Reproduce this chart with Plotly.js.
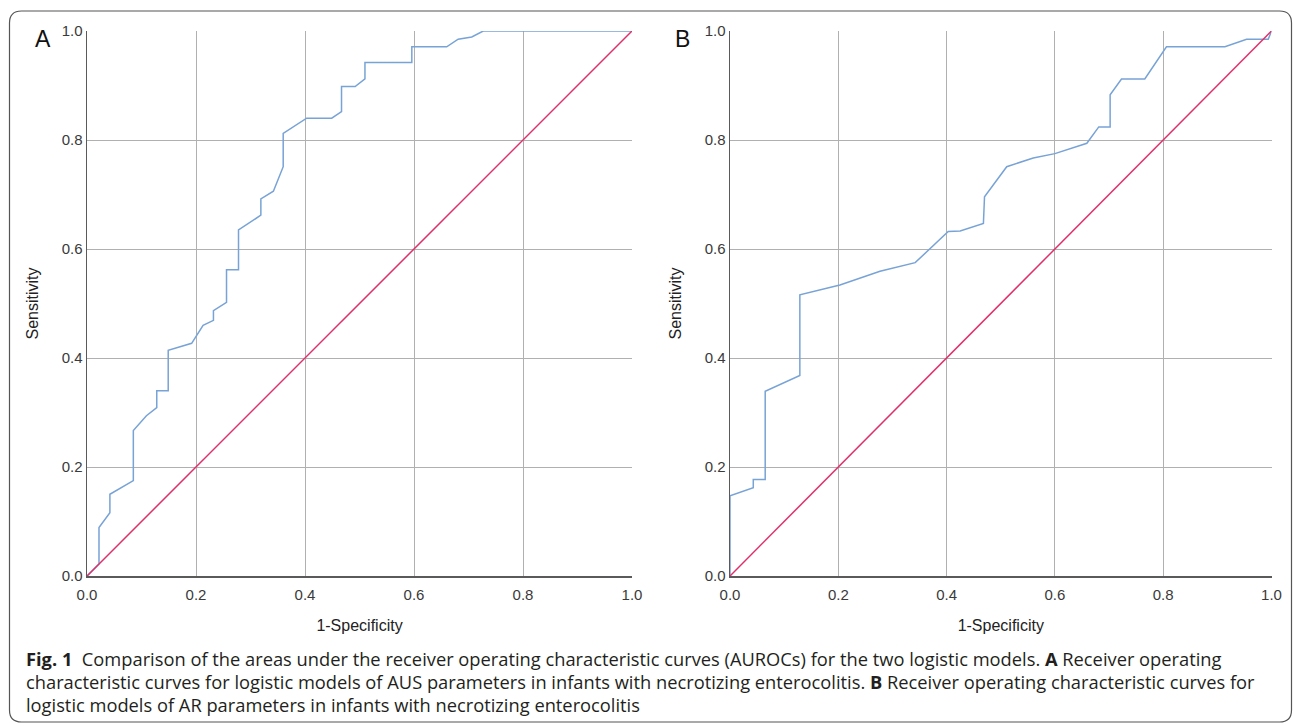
<!DOCTYPE html>
<html>
<head>
<meta charset="utf-8">
<script src="https://cdn.plot.ly/plotly-3.0.1.min.js"></script>
<style>html,body{margin:0;padding:0;background:#fff;}#chart{width:1293px;height:726px;}</style>
</head>
<body>
<div id="chart"></div>
<script>
// Panel A: ROC for AUS parameters
const fprA = [0, 0.022, 0.022, 0.042, 0.042, 0.085, 0.085, 0.109, 0.128, 0.128, 0.149, 0.149, 0.192, 0.213, 0.232, 0.232, 0.256, 0.256, 0.278, 0.278, 0.319, 0.319, 0.342, 0.360, 0.360, 0.403, 0.449, 0.467, 0.467, 0.492, 0.510, 0.510, 0.596, 0.596, 0.660, 0.681, 0.706, 0.727, 1.0];
const tprA = [0, 0.022, 0.089, 0.116, 0.150, 0.175, 0.267, 0.294, 0.309, 0.340, 0.340, 0.414, 0.427, 0.460, 0.469, 0.487, 0.502, 0.562, 0.562, 0.635, 0.662, 0.692, 0.706, 0.751, 0.812, 0.840, 0.840, 0.852, 0.898, 0.898, 0.912, 0.942, 0.942, 0.971, 0.971, 0.985, 0.989, 1.0, 1.0];
// Panel B: ROC for AR parameters
const fprB = [0, 0, 0.043, 0.043, 0.065, 0.065, 0.129, 0.129, 0.203, 0.234, 0.277, 0.342, 0.403, 0.425, 0.468, 0.470, 0.511, 0.560, 0.600, 0.659, 0.681, 0.702, 0.702, 0.723, 0.766, 0.806, 0.914, 0.954, 0.994, 1.0];
const tprB = [0, 0.147, 0.162, 0.177, 0.177, 0.339, 0.368, 0.516, 0.534, 0.545, 0.559, 0.575, 0.632, 0.633, 0.647, 0.696, 0.751, 0.767, 0.775, 0.794, 0.824, 0.824, 0.883, 0.912, 0.912, 0.971, 0.971, 0.985, 0.985, 1.0];
// Reference line
const diagX = [0, 1];
const diagY = [0, 1];
const tickVals = [0, 0.2, 0.4, 0.6, 0.8, 1.0];
const tickText = ['0.0', '0.2', '0.4', '0.6', '0.8', '1.0'];
const panelLabels = ['A', 'B'];
const xTitle = '1-Specificity';
const yTitle = 'Sensitivity';
const captionLines = [
  '<b>Fig. 1</b>  Comparison of the areas under the receiver operating characteristic curves (AUROCs) for the two logistic models. <b>A</b> Receiver operating',
  'characteristic curves for logistic models of AUS parameters in infants with necrotizing enterocolitis. <b>B</b> Receiver operating characteristic curves for',
  'logistic models of AR parameters in infants with necrotizing enterocolitis'
];

const W = 1293, H = 726;
const px = v => v / W;
const py = v => 1 - v / H;

const rocColor = '#78a3d6';
const diagColor = '#e0306a';

const traces = [
  {x: fprA, y: tprA, xaxis: 'x', yaxis: 'y', mode: 'lines', line: {color: rocColor, width: 1.5}, hoverinfo: 'skip'},
  {x: diagX, y: diagY, xaxis: 'x', yaxis: 'y', mode: 'lines', line: {color: diagColor, width: 1.5}, hoverinfo: 'skip'},
  {x: fprB, y: tprB, xaxis: 'x2', yaxis: 'y2', mode: 'lines', line: {color: rocColor, width: 1.5}, hoverinfo: 'skip'},
  {x: diagX, y: diagY, xaxis: 'x2', yaxis: 'y2', mode: 'lines', line: {color: diagColor, width: 1.5}, hoverinfo: 'skip'}
];

const tickFont = {family: 'Liberation Sans, Arial, sans-serif', size: 15, color: '#3a3a3a'};
const titleFont = {family: 'Liberation Sans, Arial, sans-serif', size: 16, color: '#222'};

function xAxis(domain, anchor) {
  return {
    domain: domain, anchor: anchor, range: [0, 1], tickvals: tickVals, ticktext: tickText,
    showgrid: true, gridcolor: '#b0b0b0', gridwidth: 1, zeroline: false,
    showline: true, linecolor: '#5a5a5a', linewidth: 1.5, ticks: '', tickfont: tickFont,
    ticklabelstandoff: 4,
    title: {text: xTitle, font: titleFont, standoff: 18}, fixedrange: true
  };
}
function yAxis(domain, anchor) {
  return {
    domain: domain, anchor: anchor, range: [0, 1], tickvals: tickVals, ticktext: tickText,
    showgrid: true, gridcolor: '#b0b0b0', gridwidth: 1, zeroline: false,
    showline: true, linecolor: '#5a5a5a', linewidth: 1.5, ticks: '', tickfont: tickFont,
    title: {text: yTitle, font: titleFont, standoff: 19}, fixedrange: true
  };
}

const yDom = [py(576), py(31)];
const xDomA = [px(87), px(632)];
const xDomB = [px(730), px(1271.5)];

// rounded outer frame
const L = px(9.5), R = px(1291.5), T = py(11), B = py(722);
const rx = px(12), ry = 12 / H;
const framePath = `M ${L + rx} ${T} L ${R - rx} ${T} Q ${R} ${T} ${R} ${T - ry} L ${R} ${B + ry} Q ${R} ${B} ${R - rx} ${B} L ${L + rx} ${B} Q ${L} ${B} ${L} ${B + ry} L ${L} ${T - ry} Q ${L} ${T} ${L + rx} ${T} Z`;

const capFont = {family: 'Open Sans, sans-serif', size: 18.3, color: '#231f20'};
const annotations = [
  {text: panelLabels[0], xref: 'paper', yref: 'paper', x: px(33), y: py(39), xanchor: 'left', yanchor: 'middle', showarrow: false, font: {family: 'Liberation Sans, Arial, sans-serif', size: 23, color: '#111'}},
  {text: panelLabels[1], xref: 'paper', yref: 'paper', x: px(673), y: py(39), xanchor: 'left', yanchor: 'middle', showarrow: false, font: {family: 'Liberation Sans, Arial, sans-serif', size: 23, color: '#111'}}
];
captionLines.forEach((t, i) => {
  annotations.push({text: t, xref: 'paper', yref: 'paper', x: px(24), y: py(658 + i * 23), xanchor: 'left', yanchor: 'middle', showarrow: false, font: capFont, align: 'left'});
});

const layout = {
  width: W, height: H, margin: {l: 0, r: 0, t: 0, b: 0},
  paper_bgcolor: '#fff', plot_bgcolor: '#fff', showlegend: false,
  xaxis: xAxis(xDomA, 'y'), yaxis: yAxis(yDom, 'x'),
  xaxis2: xAxis(xDomB, 'y2'), yaxis2: yAxis(yDom, 'x2'),
  shapes: [{type: 'path', xref: 'paper', yref: 'paper', path: framePath, line: {color: '#555', width: 1.2}}],
  annotations: annotations
};

Plotly.newPlot('chart', traces, layout, {staticPlot: true, displayModeBar: false});
</script>
</body>
</html>
